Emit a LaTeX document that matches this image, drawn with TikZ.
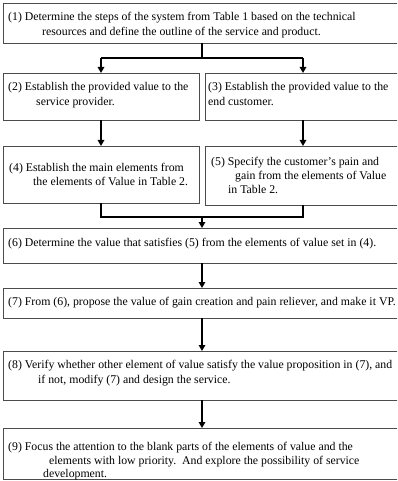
\documentclass[tikz,border=0pt]{standalone}
\usepackage{fontspec}
\setmainfont{Liberation Serif}
\usetikzlibrary{arrows.meta}
\begin{document}
\begin{tikzpicture}[x=1pt,y=-1pt,
  box/.style={draw=black!70,line width=0.8pt,rectangle,inner sep=0pt,outer sep=0pt},
  txt/.style={anchor=north west,inner sep=0pt,align=left,
    font=\fontsize{11.8}{#1}\selectfont},
  txt/.default=14.5,
  conn/.style={draw=black,line width=2pt},
  arr/.style={conn,-{Triangle[width=6.5pt,length=6pt]}}]
\useasboundingbox (0,0) rectangle (397,481);
\clip (0,0) rectangle (397,481);

% boxes
\node[box,minimum width=395pt,minimum height=40pt] (b1) at (200.5,23) {};
\node[box,minimum width=196pt,minimum height=47pt] (b2) at (101,96.5) {};
\node[box,minimum width=193pt,minimum height=47pt] (b3) at (301.5,96.5) {};
\node[box,minimum width=196pt,minimum height=57pt] (b4) at (101,174.5) {};
\node[box,minimum width=193pt,minimum height=59pt] (b5) at (301.5,175.5) {};
\node[box,minimum width=395pt,minimum height=35pt] (b6) at (200.5,245.5) {};
\node[box,minimum width=395pt,minimum height=30pt] (b7) at (200.5,303) {};
\node[box,minimum width=395pt,minimum height=49pt] (b8) at (200.5,375.5) {};
\node[box,minimum width=395pt,minimum height=51pt] (b9) at (200.5,453.5) {};

% texts
\node[txt=15] (t1) at (8,12) {(1) Determine the steps of the system from Table 1 based on the technical\\\hspace*{34pt}resources and define the outline of the service and product.};
\node[txt=15.5] (t2) at (8,82) {(2) Establish the provided value to the\\\hspace*{28pt}service provider.};
\node[txt=15.5] (t3) at (208,82) {(3) Establish the provided value to the\\end customer.};
\node[txt=14] (t4) at (9,163) {(4) Establish the main elements from\\\hspace*{24pt}the elements of Value in Table 2.};
\node[txt=14] (t5) at (211,157) {(5) Specify the customer's pain and\\\hspace*{24pt}gain from the elements of Value\\\hspace*{17pt}in Table 2.};
\node[txt] (t6) at (8,238) {(6) Determine the value that satisfies (5) from the elements of value set in (4).};
\node[txt] (t7) at (8,297) {(7) From (6), propose the value of gain creation and pain reliever, and make it VP.};
\node[txt=15] (t8) at (8,360) {(8) Verify whether other element of value satisfy the value proposition in (7), and\\\hspace*{30pt}if not, modify (7) and design the service.};
\node[txt=13.5] (t9) at (8,442) {(9) Focus the attention to the blank parts of the elements of value and the\\\hspace*{41pt}elements with low priority.\ \ And explore the possibility of service\\\hspace*{35pt}development.};

% split from (1) to (2) and (3)
\coordinate (s1) at (202,58);
\coordinate (sl) at (101,58);
\coordinate (sr) at (303,58);
\draw[conn] (b1.south -| s1) -- (s1);
\draw[conn] (sl) -- (sr);
\draw[arr] (sl) -- (b2.north -| sl);
\draw[arr] (sr) -- (b3.north -| sr);

% (2) -> (4), (3) -> (5)
\draw[arr] (b2.south -| sl) -- (b4.north -| sl);
\draw[arr] (b3.south -| sr) -- (b5.north -| sr);

% merge of (4) and (5) into (6)
\coordinate (m1) at (202,217);
\coordinate (ml) at (101,217);
\coordinate (mr) at (303,217);
\draw[conn] (b4.south -| ml) -- (ml) -- (mr) -- (b5.south -| mr);
\draw[arr] (m1) -- (b6.north -| m1);

% vertical chain
\draw[arr] (b6.south -| m1) -- (b7.north -| m1);
\draw[arr] (b7.south -| m1) -- (b8.north -| m1);
\draw[arr] (b8.south -| m1) -- (b9.north -| m1);
\end{tikzpicture}
\end{document}
